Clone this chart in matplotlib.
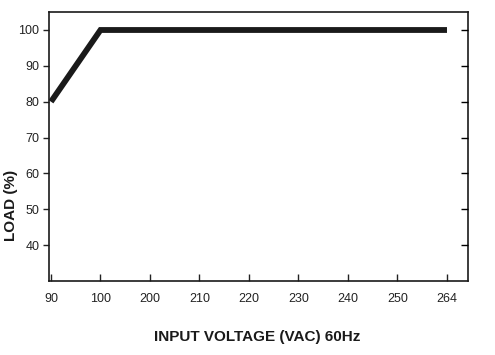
import matplotlib.pyplot as plt

plt.rcParams['font.family'] = ['Liberation Sans', 'DejaVu Sans']

# x axis tick labels (evenly spaced, not to scale)
volt_ticks = [90, 100, 200, 210, 220, 230, 240, 250, 264]
load_ticks = [40, 50, 60, 70, 80, 90, 100]

# derating curve
volts = [90, 100, 264]
load = [80, 100, 100]

x_pos = [volt_ticks.index(v) for v in volts]

fig = plt.figure(figsize = (4.95, 3.55), dpi = 100)
ax = fig.add_axes([0.099, 0.2085, 0.846, 0.7575])

ax.plot(x_pos, load, color = '#1a1a1a', linewidth = 4.2, solid_capstyle = 'butt', solid_joinstyle = 'miter')

ax.set_xlim(-0.04, 8.42)
ax.set_ylim(30, 105)

ax.set_xticks(range(len(volt_ticks)))
ax.set_xticklabels([str(v) for v in volt_ticks])
ax.set_yticks(load_ticks)

ax.tick_params(axis = 'x', direction = 'in', length = 5, width = 1, pad = 9, labelsize = 9, colors = '#222222')
ax.tick_params(axis = 'y', direction = 'out', length = 4, width = 1, pad = 3, labelsize = 9, colors = '#222222')

for s in ax.spines.values():
    s.set_linewidth(1.2)
    s.set_color('#1a1a1a')

# inward ticks on the right spine
ax2 = ax.twinx()
ax2.set_ylim(ax.get_ylim())
ax2.set_yticks(load_ticks)
ax2.set_yticklabels([])
ax2.tick_params(axis = 'y', direction = 'in', length = 5, width = 1)
for s in ax2.spines.values():
    s.set_visible(False)

fig.text(0.52, 0.05, "INPUT VOLTAGE (VAC) 60Hz", ha = 'center', va = 'center', fontsize = 11, fontweight = 'bold', color = '#1a1a1a')
fig.text(0.022, 0.42, "LOAD (%)", ha = 'center', va = 'center', rotation = 90, fontsize = 11, fontweight = 'bold', color = '#1a1a1a')

plt.savefig("out.png", dpi = 100)
